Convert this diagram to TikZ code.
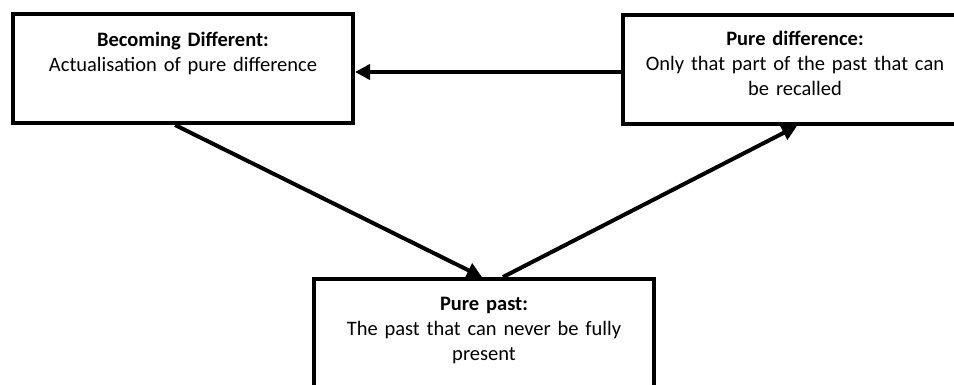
\documentclass[tikz,border=0pt]{standalone}
\usepackage{fontspec}
\setmainfont{Carlito}
\usetikzlibrary{arrows.meta}
\begin{document}
\begin{tikzpicture}[x=1pt,y=-1pt,
  box/.style={draw, line width=4pt, inner sep=0pt, minimum width=340pt, minimum height=109pt},
  txt/.style={anchor=base, align=center, text width=336pt, inner sep=0pt,
    font=\fontsize{20.5}{25}\selectfont},
  arr/.style={line width=4pt, -{Triangle[length=15pt,width=15pt]}}]
\useasboundingbox (0,0) rectangle (954,384);
\node[box] (bd) at (183,68.5) {};
\node[box, minimum width=344pt] (pd) at (795,69.5) {};
\node[box, minimum height=110pt] (pp) at (484,334) {};
\node[txt] (bdt) at (183,46) {\textbf{Becoming Different:}\\Actualisation of pure difference};
\node[txt] (pdt) at (795,45) {\textbf{Pure difference:}\\Only that part of the past that can\\be recalled};
\node[txt] (ppt) at (484,310) {\textbf{Pure past:}\\The past that can never be fully\\present};
\draw[arr] ([yshift=-2.5pt]pd.west) -- ([yshift=-2.5pt]pd.west -| bd.east);
\draw[arr] ([xshift=-8pt]bd.south) -- ([xshift=-2pt]pp.north);
\draw[arr] ([xshift=19pt]pp.north) -- ([xshift=2pt]pd.south);
\end{tikzpicture}
\end{document}
